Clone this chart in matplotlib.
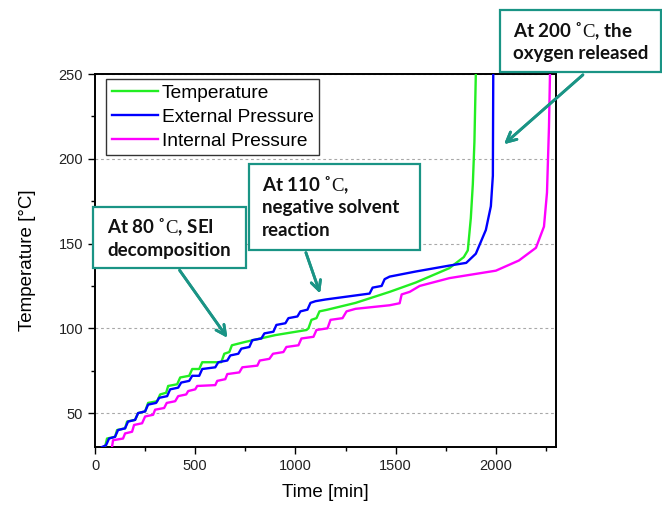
import matplotlib
matplotlib.use("Agg")
import matplotlib.pyplot as plt
from matplotlib.patches import Rectangle
from matplotlib.ticker import MultipleLocator

# ---------------- data ----------------
temp_t = [50, 60, 100, 110, 150, 160, 200, 215, 250, 265, 310, 325, 355, 365, 410, 425,
          470, 485, 520, 535, 630, 645, 670, 683, 750, 900, 1055, 1065, 1080, 1105, 1120,
          1160, 1300, 1470, 1600, 1768, 1840, 1860, 1875, 1885, 1893, 1900]
temp_v = [30, 35, 36, 40, 41, 45, 46, 50, 51, 56, 57, 61, 62, 66, 67, 71,
          72, 76, 76, 80, 80, 85, 86, 90, 92, 96, 99, 100, 105, 106, 110,
          111, 115, 121.5, 127, 135.5, 142, 146, 165, 185, 210, 250]

ext_t = [35, 55, 70, 100, 115, 150, 165, 200, 215, 250, 265, 305, 320, 360, 375, 415,
         430, 470, 485, 520, 535, 600, 615, 660, 675, 715, 730, 770, 785, 830, 845, 890,
         905, 950, 965, 1010, 1025, 1060, 1075, 1100, 1150, 1370, 1385, 1430, 1445, 1470,
         1600, 1768, 1852, 1900, 1950, 1975, 1985, 1987]
ext_v = [30, 31, 35, 36, 40, 41, 45, 46, 50, 51, 55, 56, 59, 60, 64, 65,
         68, 69, 72, 72, 76, 77, 80, 81, 84, 85, 88, 89, 93, 94, 97, 98,
         102, 103, 106, 107, 110, 111, 115, 116, 117, 120.5, 124, 125, 129, 130.5,
         133.5, 137, 138.6, 144, 158, 172, 190, 250]

int_t = [85, 90, 140, 150, 185, 195, 235, 250, 290, 300, 345, 358, 400, 415, 455, 465,
         500, 510, 600, 610, 650, 660, 720, 735, 810, 822, 870, 888, 940, 955, 1015, 1030,
         1090, 1105, 1160, 1175, 1235, 1255, 1300, 1470, 1520, 1530, 1570, 1620, 1768,
         2000, 2115, 2200, 2240, 2255, 2265, 2270]
int_v = [30, 34, 35, 38, 39, 43, 44, 48, 49, 52, 53, 56, 57, 60, 61, 63,
         64, 66, 66.5, 69, 70, 73, 74, 77, 78, 81, 82, 85, 86, 89, 90, 94,
         95, 99, 100, 105, 106, 110, 111.5, 113.6, 114.8, 120, 121.5, 125, 129.6,
         134, 140, 147.5, 160, 180, 219, 250]

series_labels = ["Temperature", "External Pressure", "Internal Pressure"]
x_label = "Time [min]"
y_label = "Temperature [°C]"
notes = [["At 80 ˚$\\mathrm{C}$, SEI", "decomposition"],
         ["At 110 ˚$\\mathrm{C}$,", "negative solvent", "reaction"],
         ["At 200 ˚$\\mathrm{C}$, the", "oxygen released"]]

# ---------------- style ----------------
plt.rcParams['font.family'] = ['Liberation Sans', 'DejaVu Sans']
plt.rcParams['mathtext.fontset'] = 'custom'
plt.rcParams['mathtext.rm'] = 'Liberation Serif'

W, H = 662, 507
fig = plt.figure(figsize=(W / 100, H / 100), dpi=100)

def fx(px):
    return px / W

def fy(py):
    return 1 - py / H

ax = fig.add_axes([fx(95), fy(447), fx(556) - fx(95), fy(74) - fy(447)])

ax.plot(temp_t, temp_v, color='#22ee22', lw=1.7, label=series_labels[0], zorder=3)
ax.plot(ext_t, ext_v, color='#0000ff', lw=1.7, label=series_labels[1], zorder=3)
ax.plot(int_t, int_v, color='#ff00ff', lw=1.7, label=series_labels[2], zorder=3)

ax.set_xlim(0, 2300)
ax.set_ylim(30, 250)
ax.xaxis.set_major_locator(MultipleLocator(500))
ax.xaxis.set_minor_locator(MultipleLocator(250))
ax.yaxis.set_major_locator(MultipleLocator(50))
ax.yaxis.set_minor_locator(MultipleLocator(25))
ax.tick_params(which='both', direction='out', top=False, right=False,
               width=1.0, colors='black', labelsize=10.5, labelcolor='#222222')
ax.tick_params(which='major', length=5)
ax.tick_params(which='minor', length=3)
for s in ax.spines.values():
    s.set_linewidth(1.4)
ax.yaxis.grid(True, which='major', linestyle=(0, (2.5, 2.5)), color='#a8a8a8', lw=0.8)
ax.set_axisbelow(True)

ax.set_xlabel(x_label, fontsize=13.5, labelpad=8)
ax.set_ylabel(y_label, fontsize=13.5, labelpad=16)

leg = ax.legend(loc='upper left', bbox_to_anchor=(fx(106 - 95) / (fx(556) - fx(95)), 1 - (79 - 74) / (447 - 74)),
                fontsize=13.8, frameon=True, fancybox=False, edgecolor='black',
                handlelength=2.4, handletextpad=0.2, borderpad=0.3, labelspacing=0.33,
                borderaxespad=0)
leg.get_frame().set_linewidth(1.0)

# ---------------- annotation boxes ----------------
teal = '#1a9485'
boxes = [(93, 207, 246, 268), (249, 164, 420, 250), (500, 10, 661, 72)]
line_pos = [[(107, 227), (107, 250)],
            [(262, 185), (262, 208), (262, 231)],
            [(513, 31), (513, 54)]]
arrows = [((178, 268), (229, 340)), ((305, 250), (321, 296)), ((585, 73), (502, 146))]

for (x0, y0, x1, y1) in boxes:
    fig.patches.append(Rectangle((fx(x0), fy(y1)), fx(x1) - fx(x0), fy(y0) - fy(y1),
                                 transform=fig.transFigure, facecolor='white',
                                 edgecolor=teal, lw=1.6, zorder=5))
for lines, poss in zip(notes, line_pos):
    for txt, (px, py) in zip(lines, poss):
        fig.text(fx(px), fy(py), txt, fontsize=13.5, fontweight='bold',
                 family=['Lato', 'DejaVu Sans'], ha='left', va='center',
                 color='#111111', zorder=6)
for (s, e) in arrows:
    fig.add_artist(plt.annotate('', xy=(fx(e[0]), fy(e[1])), xytext=(fx(s[0]), fy(s[1])),
                                xycoords='figure fraction', textcoords='figure fraction',
                                arrowprops=dict(arrowstyle='->,head_length=0.7,head_width=0.35',
                                                color=teal, lw=2)))

fig.savefig('out.png', dpi=100)
